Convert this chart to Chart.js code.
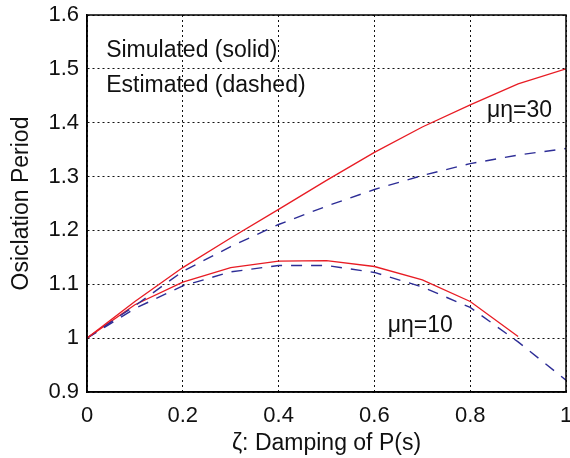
<!DOCTYPE html>
<html>
<head>
<meta charset="utf-8">
<script src="https://cdn.jsdelivr.net/npm/chart.js@4"></script>
<style>
  html, body { margin: 0; padding: 0; background: #fff; }
  #wrap { width: 570px; height: 458px; }
</style>
</head>
<body>
<div id="wrap"><canvas id="chart" width="570" height="458"></canvas></div>
<script>
var zeta = [0, 0.1, 0.2, 0.3, 0.4, 0.5, 0.6, 0.7, 0.8, 0.9, 1.0];
var sim30 = [1.0, 1.068, 1.131, 1.186, 1.239, 1.293, 1.345, 1.392, 1.433, 1.472, 1.5];
var est30 = [1.0, 1.06, 1.124, 1.17, 1.211, 1.245, 1.276, 1.302, 1.324, 1.34, 1.352];
var zeta10 = [0, 0.1, 0.2, 0.3, 0.4, 0.5, 0.6, 0.7, 0.8, 0.9];
var sim10 = [1.0, 1.062, 1.104, 1.131, 1.143, 1.144, 1.133, 1.108, 1.068, 1.003];
var est10 = [1.0, 1.055, 1.097, 1.123, 1.135, 1.135, 1.122, 1.095, 1.057, 0.993, 0.922];
var yTicks = ['0.9', '1', '1.1', '1.2', '1.3', '1.4', '1.5', '1.6'];
var xTicks = ['0', '0.2', '0.4', '0.6', '0.8', '1'];

var red = 'rgb(232,28,36)';
var blue = 'rgb(45,45,150)';
var font = 'Liberation Sans, Arial, sans-serif';

function pts(xs, ys) {
    var out = [];
    for (var i = 0; i < ys.length; i++) out.push({ x: xs[i], y: ys[i] });
    return out;
}

// frame + text labels
var extras = {
    id: 'extras',
    afterDraw: function (chart) {
        var ctx = chart.ctx;
        var a = chart.chartArea;
        var xs = chart.scales.x, ys = chart.scales.y;
        ctx.save();
        ctx.strokeStyle = '#000';
        ctx.lineWidth = 1.5;
        ctx.strokeRect(a.left, a.top, a.right - a.left, a.bottom - a.top);
        ctx.fillStyle = '#111';
        ctx.font = '23px ' + font;
        ctx.textBaseline = 'middle';
        ctx.textAlign = 'left';
        ctx.fillText('Simulated (solid)', xs.getPixelForValue(0.04), ys.getPixelForValue(1.533));
        ctx.fillText('Estimated (dashed)', xs.getPixelForValue(0.04), ys.getPixelForValue(1.468));
        ctx.fillText('\u03bc\u03b7=30', xs.getPixelForValue(0.835), ys.getPixelForValue(1.422));
        ctx.fillText('\u03bc\u03b7=10', xs.getPixelForValue(0.628), ys.getPixelForValue(1.024));
        ctx.restore();
    }
};

new Chart(document.getElementById('chart'), {
    type: 'line',
    data: {
        datasets: [
            { data: pts(zeta, sim30), borderColor: red, borderWidth: 1.3 },
            { data: pts(zeta, est30), borderColor: blue, borderWidth: 1.4, borderDash: [11, 9] },
            { data: pts(zeta10, sim10), borderColor: red, borderWidth: 1.3 },
            { data: pts(zeta, est10), borderColor: blue, borderWidth: 1.4, borderDash: [11, 9] }
        ]
    },
    options: {
        responsive: false,
        animation: false,
        layout: { padding: { left: 4, right: 4, top: 15, bottom: 1 } },
        elements: { point: { radius: 0 }, line: { tension: 0 } },
        plugins: { legend: { display: false }, tooltip: { enabled: false } },
        scales: {
            x: {
                type: 'linear', min: 0, max: 1,
                afterBuildTicks: function (s) { s.ticks = xTicks.map(function (t) { return { value: parseFloat(t) }; }); },
                ticks: {
                    color: '#111', font: { family: font, size: 22 }, padding: 11,
                    callback: function (v) { return xTicks[Math.round(v * 5)]; }
                },
                grid: { color: '#111', lineWidth: 1, tickLength: 0 },
                border: { display: true, color: '#000', width: 1.5, dash: [2, 3] },
                title: { display: true, text: '\u03b6: Damping of P(s)', color: '#111', font: { family: font, size: 23 }, padding: { top: 0, bottom: 0 } },
                afterFit: function (s) { s.height = 65; s.paddingLeft = 0; s.paddingRight = 0; }
            },
            y: {
                type: 'linear', min: 0.9, max: 1.6,
                afterBuildTicks: function (s) { s.ticks = yTicks.map(function (t) { return { value: parseFloat(t) }; }); },
                ticks: {
                    color: '#111', font: { family: font, size: 22 }, padding: 8,
                    callback: function (v) { return yTicks[Math.round((v - 0.9) * 10)]; }
                },
                grid: { color: '#111', lineWidth: 1, tickLength: 0 },
                border: { display: true, color: '#000', width: 1.5, dash: [2, 3] },
                title: { display: true, text: 'Osiclation Period', color: '#111', font: { family: font, size: 23 }, padding: { bottom: 2 } },
                afterFit: function (s) { s.width = 83; s.paddingTop = 0; s.paddingBottom = 0; }
            }
        }
    },
    plugins: [extras]
});
</script>
</body>
</html>
